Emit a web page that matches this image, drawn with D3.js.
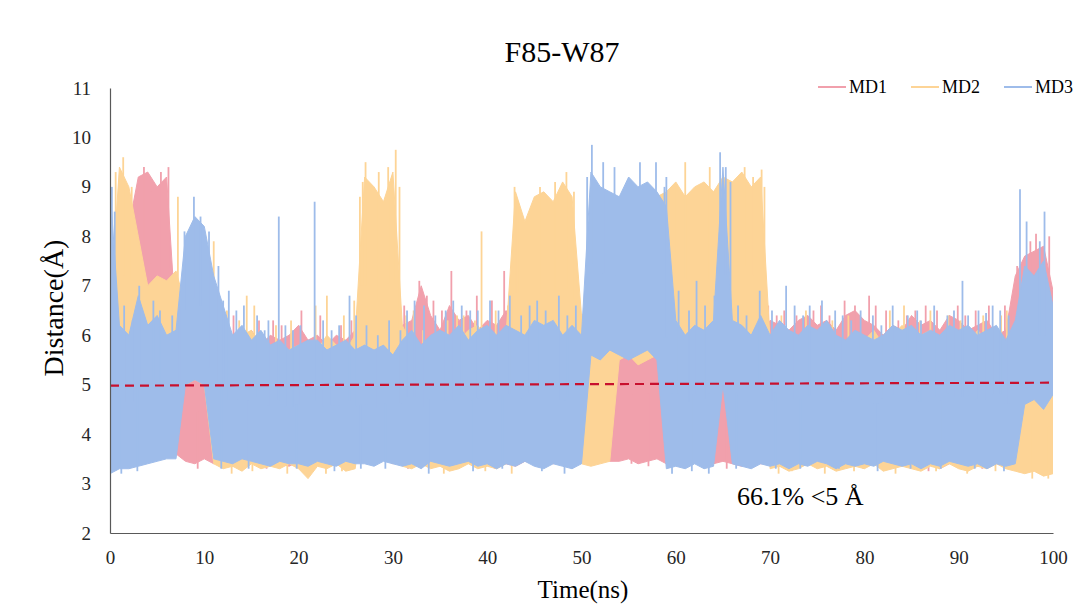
<!DOCTYPE html>
<html>
<head>
<meta charset="utf-8">
<script src="https://cdn.jsdelivr.net/npm/d3@7"></script>
<style>
body { margin: 0; background: #fff; }
text { font-family: "Liberation Serif", "Times New Roman", serif; }
</style>
</head>
<body>
<div id="my_dataviz"></div>
<script>
// one sample per ns, 0..100
var times = d3.range(0, 101);

// MD1 envelope (upper / lower edge of the noisy band), Å
var md1Hi = [5.8, 9.1, 8.2, 9.2, 9.3, 9.0, 9.2, 6.2, 5.6, 5.5,
  5.6, 6.0, 5.8, 6.0, 5.9, 6.1, 5.8, 6.0, 5.9, 6.0,
  6.2, 5.9, 6.0, 5.8, 6.0, 5.9, 6.1, 6.0, 6.2, 5.9,
  6.1, 6.2, 6.3, 7.0, 6.4, 6.1, 6.6, 6.3, 6.4, 6.1,
  6.3, 6.2, 6.5, 6.0, 6.3, 6.2, 6.1, 6.3, 6.2, 6.1,
  5.6, 5.4, 5.5, 5.6, 6.3, 6.1, 6.4, 6.2, 6.3, 6.1,
  6.4, 6.2, 6.3, 6.0, 6.2, 5.3, 5.8, 6.1, 6.2, 6.0,
  6.3, 6.2, 6.1, 6.3, 6.4, 6.2, 6.3, 6.1, 6.4, 6.5,
  6.3, 6.2, 6.0, 6.2, 6.1, 6.4, 6.2, 6.3, 6.1, 6.4,
  6.3, 6.1, 6.2, 6.3, 6.0, 6.1, 7.2, 7.6, 7.7, 7.8,
  6.9];
var md1Lo = [5.6, 5.4, 5.6, 5.5, 5.6, 5.4, 5.5, 3.6, 3.45, 3.4,
  3.5, 3.4, 3.45, 3.35, 3.4, 3.5, 3.4, 3.45, 3.4, 3.35,
  3.45, 3.4, 3.5, 3.4, 3.45, 3.4, 3.5, 3.45, 3.4, 3.5,
  3.4, 3.45, 3.4, 3.5, 3.4, 3.45, 3.35, 3.4, 3.5, 3.45,
  3.4, 3.45, 3.4, 3.35, 3.45, 3.4, 3.5, 3.4, 3.45, 3.4,
  3.45, 3.4, 3.5, 3.45, 3.45, 3.5, 3.4, 3.45, 3.5, 3.4,
  3.45, 3.4, 3.5, 3.45, 3.4, 3.45, 3.4, 3.35, 3.45, 3.4,
  3.4, 3.35, 3.45, 3.4, 3.5, 3.4, 3.45, 3.35, 3.4, 3.45,
  3.35, 3.4, 3.45, 3.4, 3.5, 3.4, 3.35, 3.45, 3.3, 3.4,
  3.45, 3.4, 3.35, 3.45, 3.4, 3.5, 5.8, 5.9, 6.0, 5.8,
  5.9];
// single-frame excursions [ns, Å]
var md1Spikes = [[1.2, 9.1], [3.6, 9.4], [4.4, 8.9], [5.4, 9.3], [6.2, 9.4], [13.1, 6.4], [17.3, 6.3],
  [20.3, 6.5], [24.5, 6.2], [29.8, 6.3], [32.8, 7.1], [36.2, 7.3], [37.8, 6.5], [41.8, 7.3], [44, 6.6],
  [46.5, 6.4], [60.5, 6.6], [62.5, 6.5], [70.7, 6.4], [74.6, 6.5], [79, 6.6], [80.5, 6.8], [82.3, 6.5],
  [85.4, 6.5], [88.4, 6.1], [89.9, 6.6], [96.2, 7.4], [97.6, 7.9], [98.2, 8.05], [99.6, 8.0],
  [11.6, 6.5], [15.8, 6.3], [18.2, 6.2], [22.3, 6.4], [25.6, 6.3], [27.8, 6.4], [30.4, 6.2], [31.2, 6.6],
  [33.6, 6.8], [34.3, 6.7], [35.2, 6.5], [38.9, 6.8], [40.5, 6.7], [43.3, 6.8], [45.1, 6.5], [47.8, 6.6],
  [49.7, 6.4], [61.8, 6.6], [63.9, 6.7], [67.8, 6.5], [69.8, 6.6], [71.5, 6.5], [72.8, 6.4], [75.4, 6.6],
  [76.3, 6.4], [77.9, 6.7], [81.2, 6.6], [83.6, 6.3], [84.5, 6.4], [86.5, 6.6], [87.7, 6.5], [90.7, 6.4],
  [91.8, 6.5], [93.2, 6.6], [94.9, 6.6], [95.5, 6.3],
  [9.3, 3.3], [16.6, 3.3], [21.3, 3.3], [31.6, 3.3], [40.8, 3.3], [55.3, 3.4], [57.1, 3.35], [65.4, 3.3],
  [79.9, 3.3], [86.8, 3.25], [92.5, 3.3]];

// MD2
var md2Hi = [6.5, 9.4, 9.0, 8.0, 7.0, 7.2, 7.1, 7.3, 6.6, 6.4,
  6.6, 7.0, 5.7, 5.8, 6.0, 6.1, 5.7, 5.8, 5.6, 5.7,
  5.8, 5.6, 5.7, 6.0, 5.8, 5.7, 6.0, 9.2, 9.0, 8.7,
  9.3, 6.2, 5.8, 5.7, 5.9, 5.8, 6.0, 5.9, 6.1, 6.2,
  5.9, 5.8, 6.0, 8.9, 8.3, 8.8, 8.9, 8.7, 9.1, 8.8,
  6.4, 6.6, 6.3, 6.5, 8.8, 8.9, 8.7, 8.9, 8.8, 8.9,
  9.1, 8.8, 9.0, 9.1, 8.9, 9.2, 9.1, 9.3, 9.0, 9.2,
  5.9, 5.8, 6.0, 5.9, 6.1, 5.8, 6.0, 5.9, 5.8, 6.0,
  5.9, 6.1, 5.8, 6.0, 6.2, 5.9, 6.0, 6.1, 5.8, 5.9,
  6.0, 5.8, 6.1, 5.9, 6.0, 5.8, 5.3, 5.1, 5.2, 5.0,
  5.1];
var md2Lo = [5.2, 5.0, 5.1, 5.0, 4.9, 5.1, 5.0, 5.0, 5.0, 5.1,
  5.0, 3.4, 3.3, 3.35, 3.25, 3.4, 3.3, 3.35, 3.3, 3.4,
  3.3, 3.1, 3.35, 3.3, 3.4, 3.25, 3.3, 4.8, 4.9, 4.7,
  4.8, 3.35, 3.3, 3.4, 3.3, 3.35, 3.25, 3.3, 3.4, 3.3,
  3.35, 3.3, 3.4, 4.8, 4.9, 4.7, 4.8, 4.9, 4.8, 4.7,
  3.4, 3.35, 3.4, 3.45, 5.5, 5.6, 5.4, 5.5, 5.6, 5.5,
  5.4, 5.5, 5.6, 5.5, 5.4, 5.5, 5.6, 5.5, 5.4, 5.5,
  3.3, 3.35, 3.25, 3.3, 3.4, 3.3, 3.35, 3.25, 3.3, 3.35,
  3.3, 3.4, 3.25, 3.3, 3.35, 3.3, 3.25, 3.35, 3.3, 3.4,
  3.3, 3.25, 3.35, 3.3, 3.4, 3.3, 3.25, 3.2, 3.25, 3.15,
  3.2];
var md2Spikes = [[0.6, 9.3], [1.4, 9.6], [2.3, 9.0], [7.2, 8.8], [11, 7.9], [14.5, 6.8], [15.3, 6.6],
  [23, 6.8], [26.5, 8.8], [26.8, 9.1], [27.1, 9.5], [28.5, 9.3], [29.5, 9.4], [30.3, 9.75], [30.7, 9.0],
  [31.4, 6.4], [36.8, 6.4], [38.7, 6.3], [39.4, 8.1], [42.9, 9.0], [43.2, 8.7], [45.6, 9.0], [47.2, 9.1],
  [48.4, 9.3], [49.2, 8.9], [59.9, 9.0], [61, 9.5], [63.6, 9.4], [67.3, 9.4], [68.2, 9.2], [69.1, 9.35],
  [69.4, 9.0], [84.2, 6.6], [87, 6.5], [94.5, 6.4],
  [8.4, 7.0], [10.5, 7.2], [12.4, 6.5], [13.7, 6.3], [17.6, 6.2], [19.2, 6.3], [21.8, 6.6], [24.8, 6.4],
  [25.9, 6.7], [32.2, 6.5], [33.2, 6.1], [35.8, 6.3], [37.5, 6.4], [40.9, 6.5], [42.2, 6.6], [71.2, 6.4],
  [73.8, 6.5], [76.6, 6.3], [78.3, 6.4], [82.7, 6.5], [85.9, 6.3], [88.9, 6.4], [90.2, 6.3], [92.6, 6.4],
  [95.1, 6.5],
  [12.9, 3.2], [15.1, 3.25], [18.8, 3.2], [22.9, 3.2], [24.6, 3.25], [35.4, 3.2], [39.8, 3.25],
  [42.6, 3.2], [70.9, 3.2], [72.3, 3.25], [75.8, 3.2], [78.9, 3.25], [83.3, 3.2], [87.6, 3.25],
  [90.9, 3.2], [93.9, 3.25], [97.8, 3.1], [99.5, 3.1]];

// MD3
var md3Hi = [9.0, 6.2, 6.0, 6.8, 6.2, 6.4, 6.0, 6.1, 8.0, 8.4,
  8.2, 7.2, 6.6, 6.0, 6.2, 5.9, 6.1, 5.8, 5.9, 5.7,
  5.8, 5.9, 5.9, 5.7, 5.8, 5.9, 5.7, 5.8, 5.7, 5.8,
  5.6, 5.9, 6.1, 5.8, 6.0, 6.1, 6.0, 6.2, 5.9, 6.1,
  6.2, 6.0, 6.2, 6.1, 6.0, 6.3, 6.2, 6.3, 6.0, 6.2,
  6.0, 9.3, 9.0, 8.9, 8.8, 9.2, 9.0, 9.1, 8.9, 8.6,
  6.3, 6.0, 6.2, 6.1, 6.3, 9.4, 6.3, 6.2, 6.0, 6.4,
  6.0, 6.3, 6.1, 6.0, 6.2, 6.1, 6.3, 6.0, 5.9, 6.1,
  6.0, 5.9, 6.0, 6.2, 6.1, 6.2, 6.0, 6.1, 6.0, 6.2,
  6.1, 6.2, 6.0, 6.1, 6.2, 5.9, 6.3, 7.4, 7.2, 7.5,
  6.6];
var md3Lo = [3.2, 3.3, 3.3, 3.35, 3.4, 3.45, 3.5, 3.5, 5.0, 5.1,
  5.0, 3.5, 3.45, 3.4, 3.5, 3.45, 3.4, 3.35, 3.45, 3.4,
  3.4, 3.35, 3.45, 3.4, 3.35, 3.45, 3.4, 3.4, 3.35, 3.45,
  3.4, 3.35, 3.4, 3.3, 3.45, 3.4, 3.35, 3.4, 3.45, 3.35,
  3.4, 3.3, 3.4, 3.35, 3.45, 3.35, 3.3, 3.4, 3.35, 3.3,
  3.4, 5.6, 5.5, 5.7, 5.6, 5.5, 5.6, 5.7, 5.5, 3.3,
  3.35, 3.3, 3.4, 3.3, 3.35, 5.0, 3.4, 3.35, 3.3, 3.4,
  3.35, 3.4, 3.3, 3.4, 3.35, 3.45, 3.4, 3.3, 3.4, 3.35,
  3.4, 3.35, 3.45, 3.4, 3.35, 3.4, 3.3, 3.4, 3.35, 3.45,
  3.4, 3.35, 3.4, 3.3, 3.4, 3.35, 3.4, 4.6, 4.7, 4.5,
  4.8];
var md3Spikes = [[0.2, 9.0], [0.5, 8.5], [3.1, 7.0], [7.9, 8.1], [8.9, 8.8], [9.6, 8.4], [10.5, 8.1],
  [12, 6.7], [16.4, 6.1], [17.9, 8.4], [21.7, 8.7], [25.4, 6.8], [32.3, 6.7], [34.5, 6.4], [39, 6.5],
  [44.5, 6.6], [50.6, 9.2], [51.1, 9.85], [52.3, 9.5], [53.5, 9.4], [56.2, 9.5], [57.9, 9.5], [58.8, 9.0],
  [59, 9.2], [64.7, 9.7], [65.3, 9.4], [65.8, 9.1], [68.9, 6.9], [71.7, 7.0], [75.5, 6.7], [76.9, 6.5],
  [83, 6.6], [86, 6.3], [90.4, 7.1], [91, 6.4], [92.9, 6.45], [96.5, 8.95], [97.2, 8.3], [98.6, 7.9],
  [99.1, 8.5],
  [1.5, 6.6], [2.4, 6.3], [4.6, 6.7], [5.3, 6.5], [6.6, 6.4], [7.4, 6.6], [11.5, 7.4], [12.6, 6.9],
  [13.4, 6.5], [14.2, 6.6], [15.6, 6.4], [16.8, 6.3], [18.6, 6.2], [19.4, 6.1], [20.2, 6.2], [22.6, 6.3],
  [23.5, 6.1], [24.3, 6.2], [26.1, 6.4], [27.2, 6.2], [28.4, 6.0], [29.6, 6.3], [30.8, 6.1], [31.5, 6.5],
  [33.3, 6.6], [35.6, 6.5], [36.4, 6.7], [37.3, 6.6], [38.2, 6.5], [40.3, 6.7], [41.2, 6.5], [42.4, 6.8],
  [43.6, 6.4], [45.3, 6.7], [46.2, 6.5], [47.6, 6.8], [48.5, 6.4], [49.4, 6.6], [60.3, 6.9], [61.4, 6.5],
  [62.2, 7.1], [63.1, 6.6], [64.1, 6.8], [66.6, 6.6], [67.5, 6.4], [70.2, 6.5], [72.6, 6.6], [73.5, 6.4],
  [74.2, 6.6], [77.7, 6.4], [78.6, 6.3], [79.6, 6.5], [80.9, 6.4], [81.8, 6.2], [84.6, 6.4], [85.6, 6.5],
  [87.4, 6.6], [88.8, 6.4], [89.5, 6.5], [92.1, 6.5], [93.6, 6.6], [94.4, 6.5], [95.3, 6.4],
  [1.2, 3.2], [2.9, 3.25], [11.8, 3.3], [14.7, 3.3], [19.8, 3.3], [23.8, 3.25], [26.6, 3.3], [29.2, 3.3],
  [33.8, 3.2], [38.5, 3.25], [41.6, 3.3], [45.8, 3.25], [48.2, 3.2], [59.6, 3.2], [61.7, 3.25],
  [63.5, 3.2], [66.4, 3.3], [70.6, 3.3], [73.2, 3.3], [77.3, 3.3], [81.4, 3.25], [84.9, 3.3], [88.1, 3.3],
  [91.7, 3.3], [94.8, 3.25]];

// 5 Å reference (dashed trend line)
var refT = [0, 100];
var refV = [4.98, 5.04];

var seriesNames = ["MD1", "MD2", "MD3"];
var xTicks = d3.range(0, 101, 10);
var yTicks = d3.range(2, 12, 1);

var colors = ["#F1A0AC", "#FDD496", "#9EBCEA"];

var margin = {top: 88, right: 33, bottom: 77, left: 110},
    width = 1086 - margin.left - margin.right,
    height = 610 - margin.top - margin.bottom;

var svg = d3.select("#my_dataviz")
  .append("svg")
    .attr("width", 1086)
    .attr("height", 610);

var g = svg.append("g")
    .attr("transform", "translate(" + margin.left + "," + margin.top + ")");

var x = d3.scaleLinear().domain([0, 100]).range([0, width]);
var y = d3.scaleLinear().domain([2, 11]).range([height, 0]);

g.append("clipPath").attr("id", "clip")
  .append("rect").attr("width", width).attr("height", height);

var plot = g.append("g").attr("clip-path", "url(#clip)");

var all = [
  {hi: md1Hi, lo: md1Lo, spikes: md1Spikes},
  {hi: md2Hi, lo: md2Lo, spikes: md2Spikes},
  {hi: md3Hi, lo: md3Lo, spikes: md3Spikes}
];

// draw in order MD1, MD2, MD3 (MD3 ends up on top)
all.forEach(function(s, i) {
  var area = d3.area()
    .x(function(t) { return x(t); })
    .y0(function(t) { return y(s.lo[t]); })
    .y1(function(t) { return y(s.hi[t]); });

  plot.append("path")
    .datum(times)
    .attr("d", area)
    .attr("fill", colors[i])
    .attr("stroke", colors[i])
    .attr("stroke-width", 1);

  // each excursion runs from the middle of the band out to its value
  plot.selectAll(".spike" + i)
    .data(s.spikes)
    .enter()
    .append("line")
      .attr("class", "spike" + i)
      .attr("x1", function(d) { return x(d[0]); })
      .attr("x2", function(d) { return x(d[0]); })
      .attr("y1", function(d) { return y(d[1]); })
      .attr("y2", function(d) {
        var k = Math.round(d[0]);
        return y((s.hi[k] + s.lo[k]) / 2);
      })
      .attr("stroke", colors[i])
      .attr("stroke-width", 1.8);
});

// dashed 5 Å line
plot.append("path")
  .datum(d3.range(refT.length))
  .attr("d", d3.line()
    .x(function(k) { return x(refT[k]); })
    .y(function(k) { return y(refV[k]); }))
  .attr("fill", "none")
  .attr("stroke", "#C8102E")
  .attr("stroke-width", 2.2)
  .attr("stroke-dasharray", "9,6");

// axes
var xAxis = g.append("g")
  .attr("transform", "translate(0," + height + ")")
  .call(d3.axisBottom(x).tickValues(xTicks).tickSize(0).tickPadding(18));
var yAxis = g.append("g")
  .call(d3.axisLeft(y).tickValues(yTicks).tickSize(0).tickPadding(19));

[xAxis, yAxis].forEach(function(a) {
  a.select(".domain").attr("stroke", "#595959").attr("stroke-width", 1.2);
  a.selectAll("text")
    .attr("fill", "#262626")
    .style("font-size", "19px")
    .style("font-family", "'Liberation Serif', 'Times New Roman', serif");
});

// title + axis titles
svg.append("text")
  .attr("x", 562).attr("y", 62)
  .attr("text-anchor", "middle")
  .style("font-size", "30px")
  .text("F85-W87");

svg.append("text")
  .attr("transform", "translate(63,308) rotate(-90)")
  .attr("text-anchor", "middle")
  .style("font-size", "28px")
  .text("Distance(Å)");

svg.append("text")
  .attr("x", 583).attr("y", 598)
  .attr("text-anchor", "middle")
  .style("font-size", "25px")
  .text("Time(ns)");

svg.append("text")
  .attr("x", 737).attr("y", 505)
  .style("font-size", "26px")
  .text("66.1% <5 Å");

// legend
var legend = svg.selectAll(".legend")
  .data(seriesNames)
  .enter()
  .append("g")
    .attr("class", "legend")
    .attr("transform", function(d, i) { return "translate(" + [818, 911, 1004][i] + ",87)"; });

legend.append("line")
  .attr("x1", 0).attr("x2", 28)
  .attr("stroke", function(d, i) { return colors[i]; })
  .attr("stroke-width", 2);

legend.append("text")
  .attr("x", 31).attr("y", 6)
  .style("font-size", "18px")
  .text(function(d) { return d; });
</script>
</body>
</html>
